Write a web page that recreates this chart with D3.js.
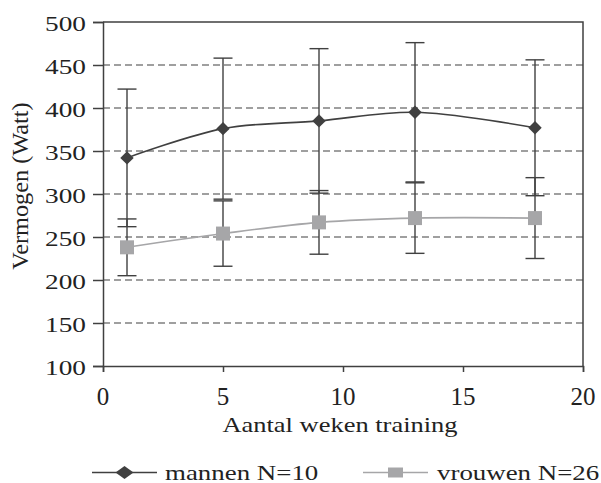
<!DOCTYPE html>
<html>
<head>
<meta charset="utf-8">
<script src="https://cdn.jsdelivr.net/npm/d3@7"></script>
<style>
  body { margin: 0; background: #fff; font-family: 'Liberation Serif', serif; }
  #wrap { position: relative; width: 601px; height: 483px; }
  #wrap svg { position: absolute; left: 0; top: 0; display: block; }
  #labels { position: absolute; left: 0; top: 0; width: 601px; height: 483px; color: #222; }
  #labels div { position: absolute; line-height: 1; white-space: nowrap; }
</style>
</head>
<body>
<div id="wrap">
  <svg id="chart" width="601" height="483"></svg>
  <div id="labels"></div>
</div>
<script>
const weeks = [1, 5, 9, 13, 18];
const mannen = [342, 376, 385, 395, 377];
const mannenSd = [80, 82, 84, 81, 79];
const vrouwen = [238, 254, 267, 272, 272];
const vrouwenSd = [33, 38, 37, 41, 47];
const yTicks = [100, 150, 200, 250, 300, 350, 400, 450, 500];
const xTicks = [0, 5, 10, 15, 20];
const seriesNames = ['mannen N=10', 'vrouwen N=26'];

const margin = { top: 22, right: 18, bottom: 117, left: 103 };
const width = 601 - margin.left - margin.right;
const height = 483 - margin.top - margin.bottom;
const dark = '#404040';
const grey = '#a6a6a8';
const serifFont = "'Liberation Serif', serif";

const svg = d3.select('#chart');
const labels = d3.select('#labels');
const root = svg.append('g').attr('transform', `translate(${margin.left},${margin.top})`);

const x = d3.scaleLinear().domain([0, 20]).range([0, width]);
const y = d3.scaleLinear().domain([100, 500]).range([height, 0]);

// text is laid out as html; glyphs in the original are drawn wide
function label(text, left, top, { size = 21, anchor = 'start', sx = 1, rotate = 0 } = {}) {
    const tx = anchor === 'end' ? '-100%' : anchor === 'middle' ? '-50%' : '0';
    const ox = anchor === 'end' ? '100%' : anchor === 'middle' ? '50%' : '0';
    labels.append('div')
        .style('font-family', serifFont)
        .style('left', `${left}px`)
        .style('top', `${top}px`)
        .style('font-size', `${size}px`)
        .style('transform-origin', `${ox} 50%`)
        .style('transform', `translate(${tx},-50%) rotate(${rotate}deg) scaleX(${sx})`)
        .text(text);
}

// gridlines
root.append('g')
    .selectAll('line')
    .data(yTicks.filter(t => t > 100 && t < 500))
    .join('line')
    .attr('x1', 0).attr('x2', width)
    .attr('y1', d => y(d)).attr('y2', d => y(d))
    .attr('stroke', '#808080')
    .attr('stroke-width', 1.4)
    .attr('stroke-dasharray', '7,4');

// frame (top + right)
root.append('path')
    .attr('d', `M0,0H${width}V${height}`)
    .attr('fill', 'none')
    .attr('stroke', dark)
    .attr('stroke-width', 1.5);

const yAxis = root.append('g')
    .call(d3.axisLeft(y).tickValues(yTicks).tickSize(10).tickFormat(''));
const xAxis = root.append('g')
    .attr('transform', `translate(0,${height})`)
    .call(d3.axisBottom(x).tickValues(xTicks).tickSize(6).tickFormat(''));

[yAxis, xAxis].forEach(ax => {
    ax.select('.domain').attr('stroke', dark).attr('stroke-width', 1.5);
    ax.selectAll('.tick line').attr('stroke', dark).attr('stroke-width', 1.5);
    ax.selectAll('.tick text').remove();
});

yTicks.forEach(v => label(v, 86, y(v) + margin.top + 2, { size: 20.5, anchor: 'end', sx: 1.33 }));
xTicks.forEach(v => label(v, x(v) + margin.left, 396, { size: 25, anchor: 'middle' }));

label('Vermogen (Watt)', 21, 185.5, { size: 22.5, anchor: 'middle', sx: 1.08, rotate: -90 });
label('Aantal weken training', 340, 424.5, { size: 21, anchor: 'middle', sx: 1.26 });

const series = [
    { name: seriesNames[0], values: mannen, sd: mannenSd, color: dark, symbol: d3.symbolDiamond2, size: 115 },
    { name: seriesNames[1], values: vrouwen, sd: vrouwenSd, color: grey, symbol: d3.symbolSquare, size: 196 },
];

const line = d3.line()
    .x((d, i) => x(weeks[i]))
    .y(d => y(d))
    .curve(d3.curveCatmullRom.alpha(0.5));

// error bars
series.forEach(s => {
    const g = root.append('g');
    weeks.forEach((w, i) => {
        const cx = x(w);
        const top = y(s.values[i] + s.sd[i]);
        const bot = y(s.values[i] - s.sd[i]);
        g.append('line')
            .attr('x1', cx).attr('x2', cx).attr('y1', top).attr('y2', bot)
            .attr('stroke', dark).attr('stroke-width', 1.4);
        [top, bot].forEach(py => g.append('line')
            .attr('x1', cx - 9.5).attr('x2', cx + 9.5)
            .attr('y1', py).attr('y2', py)
            .attr('stroke', dark).attr('stroke-width', 1.4));
    });
});

series.forEach(s => {
    root.append('path')
        .datum(s.values)
        .attr('d', line)
        .attr('fill', 'none')
        .attr('stroke', s.color)
        .attr('stroke-width', 1.6);
    root.append('g')
        .selectAll('path')
        .data(s.values)
        .join('path')
        .attr('transform', (d, i) => `translate(${x(weeks[i])},${y(d)})`)
        .attr('d', d3.symbol(s.symbol, s.size))
        .attr('fill', s.color);
});

// legend
const legendY = 472.5;
const legend = svg.append('g').attr('transform', `translate(0,${legendY})`);
const legendItems = [
    { s: series[0], x1: 92, x2: 157, tx: 165, marker: 'M0,-6.5L9,0L0,6.5L-9,0Z' },
    { s: series[1], x1: 363, x2: 428, tx: 437, marker: 'M-7.5,-5H7.5V5H-7.5Z' },
];
legendItems.forEach(it => {
    legend.append('line')
        .attr('x1', it.x1).attr('x2', it.x2).attr('y1', 0).attr('y2', 0)
        .attr('stroke', it.s.color).attr('stroke-width', 1.6);
    legend.append('path')
        .attr('transform', `translate(${(it.x1 + it.x2) / 2},0)`)
        .attr('d', it.marker)
        .attr('fill', it.s.color);
    label(it.s.name, it.tx, legendY, { size: 21, sx: 1.28 });
});
</script>
</body>
</html>
